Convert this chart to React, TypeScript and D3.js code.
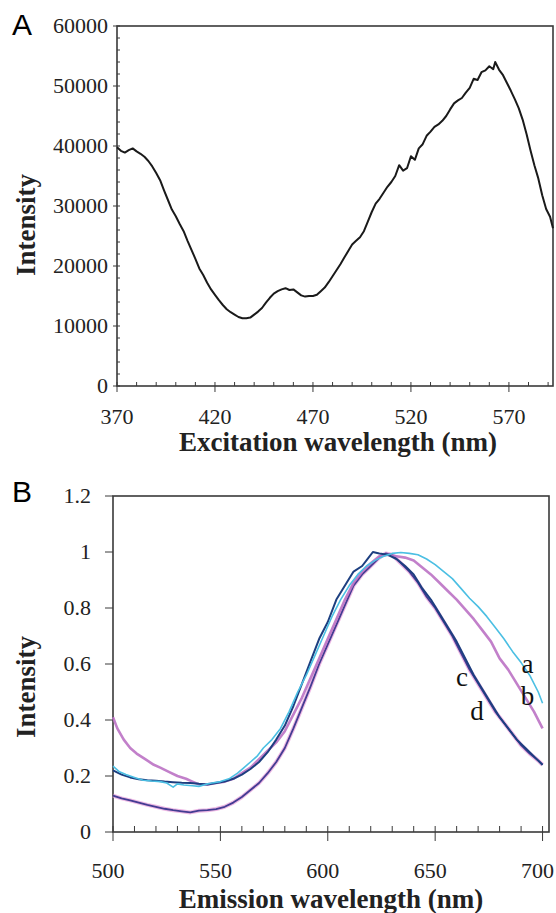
import React from 'react';
import * as d3 from 'd3';

// panel A: excitation spectrum (nm, intensity)
const excitationNm = [370, 372, 374, 376, 378, 380, 382, 384, 386, 388, 390, 392, 394, 396, 398, 400, 402, 404, 406, 408, 410, 412, 414, 416, 418, 420, 422, 424, 426, 428, 430, 432, 434, 436, 438, 440, 442, 444, 446, 448, 450, 452, 454, 456, 458, 460, 462, 464, 466, 468, 470, 472, 474, 476, 478, 480, 482, 484, 486, 488, 490, 492, 494, 496, 498, 500, 502, 504, 506, 508, 510, 512, 514, 516, 518, 520, 522, 524, 526, 528, 530, 532, 534, 536, 538, 540, 542, 544, 546, 548, 550, 552, 554, 556, 558, 560, 562, 563, 565, 567, 569, 571, 573, 575, 577, 579, 581, 583, 585, 587, 589, 591, 592.5];
const excitationInt = [39800, 39200, 38900, 39300, 39600, 39100, 38700, 38200, 37500, 36600, 35500, 34300, 32600, 31000, 29400, 28300, 27000, 25800, 24200, 22700, 21200, 19600, 18500, 17200, 16100, 15200, 14300, 13500, 12800, 12300, 11900, 11500, 11300, 11300, 11400, 11900, 12400, 13000, 13900, 14700, 15400, 15800, 16100, 16300, 16000, 16100, 15600, 15100, 14900, 15000, 15000, 15200, 15800, 16400, 17300, 18300, 19300, 20300, 21400, 22500, 23600, 24200, 24800, 25800, 27400, 29000, 30400, 31200, 32200, 33200, 34000, 35000, 36800, 35900, 36300, 38300, 37700, 39600, 40300, 41700, 42400, 43200, 43600, 44200, 45000, 46100, 47100, 47600, 48000, 48900, 49700, 51200, 51000, 52300, 52600, 53300, 52800, 54000, 52700, 51800, 50500, 49200, 47800, 46300, 44400, 42000, 39300, 36800, 34600, 31800, 29500, 28200, 26300];

// panel B: emission spectra a-d (nm, normalized intensity)
const aNm = [500, 503, 506, 510, 514, 518, 522, 525, 528, 530, 533, 537, 540, 543, 546, 550, 554, 558, 561, 564, 567, 570, 574, 578, 582, 586, 590, 594, 598, 602, 606, 610, 614, 618, 622, 626, 630, 634, 638, 642, 646, 650, 654, 658, 662, 666, 670, 674, 678, 682, 686, 690, 694, 698, 700];
const aInt = [0.235, 0.215, 0.205, 0.195, 0.185, 0.182, 0.18, 0.175, 0.16, 0.172, 0.168, 0.165, 0.163, 0.17, 0.175, 0.18, 0.19, 0.21, 0.23, 0.25, 0.27, 0.3, 0.33, 0.37, 0.43, 0.5, 0.56, 0.63, 0.7, 0.77, 0.83, 0.88, 0.92, 0.95, 0.97, 0.985, 0.995, 0.998, 0.995, 0.99, 0.975, 0.955, 0.93, 0.905, 0.87, 0.835, 0.805, 0.77, 0.73, 0.69, 0.645, 0.605, 0.56, 0.5, 0.46];

const bNm = [500, 502, 505, 508, 511, 515, 519, 522, 526, 530, 534, 537, 540, 544, 548, 552, 556, 560, 564, 568, 572, 576, 580, 584, 588, 592, 596, 600, 604, 608, 612, 616, 620, 624, 628, 632, 636, 640, 644, 648, 652, 656, 660, 664, 668, 672, 676, 680, 684, 688, 692, 696, 700];
const bInt = [0.41, 0.37, 0.33, 0.3, 0.28, 0.26, 0.24, 0.23, 0.215, 0.2, 0.19, 0.18, 0.17, 0.17, 0.175, 0.18, 0.19, 0.21, 0.23, 0.26, 0.29, 0.32, 0.36, 0.42, 0.48, 0.55, 0.62, 0.69, 0.76, 0.83, 0.89, 0.93, 0.96, 0.985, 0.99, 0.985, 0.98, 0.97, 0.945, 0.92, 0.89, 0.86, 0.83, 0.795, 0.76, 0.72, 0.68, 0.62, 0.58, 0.53, 0.48, 0.43, 0.37];

const cNm = [500, 504, 508, 512, 516, 520, 524, 528, 532, 536, 540, 544, 548, 552, 556, 560, 564, 568, 572, 576, 580, 584, 588, 592, 596, 600, 604, 608, 612, 616, 619, 621, 624, 628, 632, 636, 640, 644, 648, 652, 656, 660, 664, 668, 672, 676, 680, 684, 688, 692, 696, 700];
const cInt = [0.22, 0.205, 0.195, 0.188, 0.185, 0.183, 0.18, 0.178, 0.176, 0.175, 0.172, 0.17, 0.175, 0.18, 0.19, 0.205, 0.225, 0.25, 0.285, 0.33, 0.38, 0.45, 0.53, 0.61, 0.69, 0.75, 0.83, 0.88, 0.93, 0.95, 0.98, 1.0, 0.995, 0.99, 0.975, 0.95, 0.92, 0.87, 0.83, 0.78, 0.73, 0.68, 0.62, 0.56, 0.51, 0.46, 0.41, 0.37, 0.33, 0.3, 0.27, 0.24];

const dNm = [500, 504, 508, 512, 516, 520, 524, 528, 532, 536, 540, 544, 548, 552, 556, 560, 564, 568, 572, 576, 580, 584, 588, 592, 596, 600, 604, 608, 612, 616, 620, 624, 627, 630, 634, 638, 642, 646, 650, 654, 658, 662, 666, 670, 674, 678, 682, 686, 690, 694, 698, 700];
const dInt = [0.13, 0.12, 0.113, 0.105, 0.097, 0.09, 0.083, 0.078, 0.074, 0.07, 0.076, 0.078, 0.082, 0.09, 0.105, 0.125, 0.15, 0.175, 0.21, 0.25, 0.3, 0.37, 0.445, 0.52, 0.6, 0.67, 0.74, 0.81, 0.88, 0.92, 0.95, 0.98, 0.995, 0.99, 0.96, 0.93, 0.89, 0.84, 0.8, 0.75, 0.7, 0.64, 0.58, 0.53, 0.48, 0.43, 0.39, 0.35, 0.31, 0.28, 0.255, 0.24];

const seriesLabels = ['a', 'b', 'c', 'd'];
// where each curve letter sits (nm, intensity of its baseline)
const seriesLabelNm = [693, 693, 662.5, 669.5];
const seriesLabelInt = [0.568, 0.454, 0.521, 0.4];

const xA = d3.scaleLinear().domain([370, 592.5]).range([117, 553]);
const yA = d3.scaleLinear().domain([0, 60000]).range([386, 26]);
const xB = d3.scaleLinear().domain([500, 703]).range([113, 549]);
const yB = d3.scaleLinear().domain([0, 1.2]).range([832, 496]);

const serif = '"Liberation Serif", "Times New Roman", serif';
const sans = '"Liberation Sans", Arial, sans-serif';
const axisCol = '#3a3a3a';

const zip = (xs: number[], ys: number[]) => xs.map((x, i) => [x, ys[i]] as [number, number]);

export default function App() {
  const lineA = d3.line<[number, number]>().x(d => xA(d[0])).y(d => yA(d[1]));
  const lineB = d3.line<[number, number]>().x(d => xB(d[0])).y(d => yB(d[1]));

  const [ax0, ax1] = xA.range();
  const [ay0, ay1] = yA.range();
  const [bx0, bx1] = xB.range();
  const [by0, by1] = yB.range();

  const aMinorX = d3.range(370, 593, 10);
  const aMajorX = d3.range(370, 593, 50);
  const aMinorY = d3.range(0, 60001, 2000);
  const aMajorY = d3.range(0, 60001, 10000);
  const bMinorX = d3.range(500, 701, 10);
  const bMajorX = d3.range(500, 701, 50);
  const bMajorY = [0, 0.2, 0.4, 0.6, 0.8, 1, 1.2];

  return (
    <svg width={556} height={913} style={{ position: 'absolute', left: 0, top: 0, background: '#fff' }}>
      {/* ---------- panel A ---------- */}
      <text x={12} y={35} fontFamily={sans} fontSize={30}>A</text>
      <rect x={ax0} y={ay1} width={ax1 - ax0} height={ay0 - ay1} fill="none" stroke={axisCol} strokeWidth={1.6} />
      {aMinorY.map(v => (
        <line key={'aym' + v} x1={ax0} x2={ax0 + 3} y1={yA(v)} y2={yA(v)} stroke={axisCol} strokeWidth={1} />
      ))}
      {aMajorY.map(v => (
        <g key={'ayM' + v}>
          <line x1={ax0 - 4} x2={ax0} y1={yA(v)} y2={yA(v)} stroke={axisCol} strokeWidth={1} />
          <text x={108} y={yA(v) + 7} textAnchor="end" fontFamily={serif} fontSize={22} fill="#222">{v}</text>
        </g>
      ))}
      {aMinorX.map(v => (
        <line key={'axm' + v} x1={xA(v)} x2={xA(v)} y1={ay0} y2={ay0 - 4} stroke={axisCol} strokeWidth={1} />
      ))}
      {aMajorX.map(v => (
        <g key={'axM' + v}>
          <line x1={xA(v)} x2={xA(v)} y1={ay0} y2={ay0 + 6} stroke={axisCol} strokeWidth={1} />
          <text x={xA(v)} y={424} textAnchor="middle" fontFamily={serif} fontSize={22} fill="#222">{v}</text>
        </g>
      ))}
      <path d={lineA(zip(excitationNm, excitationInt)) || ''} fill="none" stroke="#1a1a1a" strokeWidth={2} strokeLinejoin="round" />
      <text transform="translate(35,225) rotate(-90)" textAnchor="middle" fontFamily={serif} fontWeight="bold" fontSize={27} fill="#222">Intensity</text>
      <text x={338} y={451} textAnchor="middle" fontFamily={serif} fontWeight="bold" fontSize={27} fill="#222">Excitation wavelength (nm)</text>

      {/* ---------- panel B ---------- */}
      <text x={12} y={502} fontFamily={sans} fontSize={30}>B</text>
      <rect x={bx0} y={by1} width={bx1 - bx0} height={by0 - by1} fill="none" stroke={axisCol} strokeWidth={1.6} />
      {bMajorY.map(v => (
        <g key={'byM' + v}>
          <line x1={bx0 - 8} x2={bx0} y1={yB(v)} y2={yB(v)} stroke={axisCol} strokeWidth={1} />
          <text x={91} y={yB(v) + 7} textAnchor="end" fontFamily={serif} fontSize={22} fill="#222">{v}</text>
        </g>
      ))}
      {bMinorX.map(v => (
        <line key={'bxm' + v} x1={xB(v)} x2={xB(v)} y1={by0} y2={by0 - 6} stroke={axisCol} strokeWidth={1} />
      ))}
      {bMajorX.map(v => (
        <g key={'bxM' + v}>
          <line x1={xB(v)} x2={xB(v)} y1={by0} y2={by0 + 9} stroke={axisCol} strokeWidth={1} />
          <text x={xB(v) - 5} y={878} textAnchor="middle" fontFamily={serif} fontSize={22} fill="#222">{v}</text>
        </g>
      ))}
      <path d={lineB(zip(dNm, dInt)) || ''} fill="none" stroke="#e59ad8" strokeWidth={4} strokeOpacity={0.7} strokeLinejoin="round" />
      <path d={lineB(zip(dNm, dInt)) || ''} fill="none" stroke="#433c92" strokeWidth={1.8} strokeLinejoin="round" />
      <path d={lineB(zip(bNm, bInt)) || ''} fill="none" stroke="#bb72c4" strokeWidth={2.6} strokeOpacity={0.9} strokeLinejoin="round" />
      <path d={lineB(zip(cNm, cInt)) || ''} fill="none" stroke="#1d3f80" strokeWidth={2} strokeLinejoin="round" />
      <path d={lineB(zip(aNm, aInt)) || ''} fill="none" stroke="#4bbfe3" strokeWidth={1.6} strokeLinejoin="round" />
      {seriesLabels.map((s, i) => (
        <text key={s} x={xB(seriesLabelNm[i])} y={yB(seriesLabelInt[i])} textAnchor="middle" fontFamily={serif} fontSize={27} fill="#111">{s}</text>
      ))}
      <text transform="translate(35,687) rotate(-90)" textAnchor="middle" fontFamily={serif} fontWeight="bold" fontSize={27} fill="#222">Intensity</text>
      <text x={331} y={908} textAnchor="middle" fontFamily={serif} fontWeight="bold" fontSize={27} fill="#222">Emission wavelength (nm)</text>
    </svg>
  );
}
